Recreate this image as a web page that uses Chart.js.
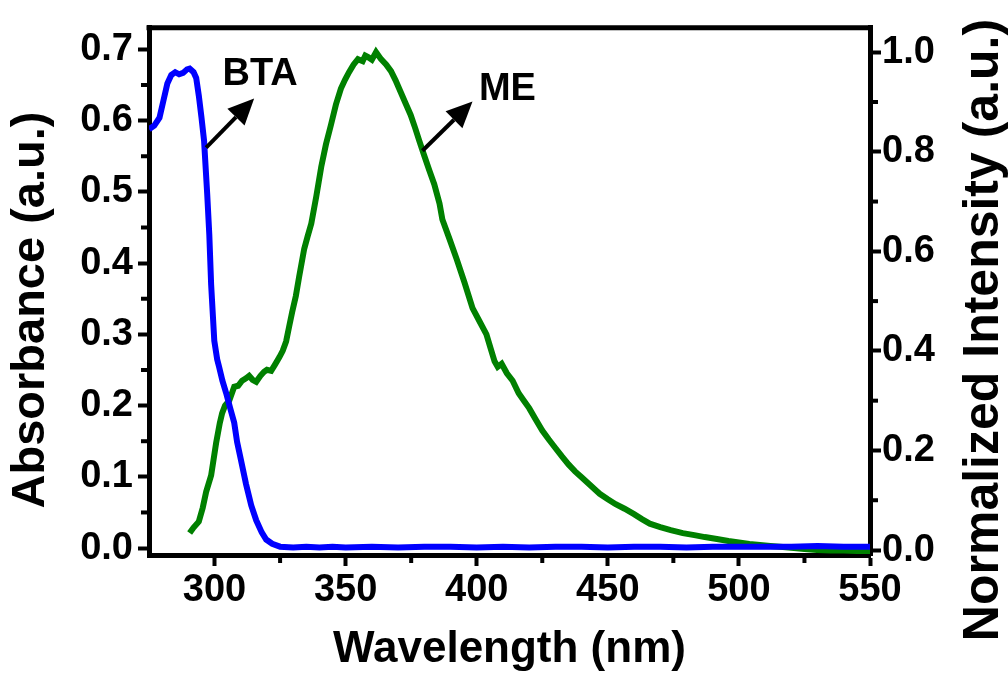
<!DOCTYPE html>
<html>
<head>
<meta charset="utf-8">
<script src="https://cdn.jsdelivr.net/npm/chart.js@4.4.1/dist/chart.umd.min.js"></script>
<style>
  body { margin: 0; background: #fff; }
  #wrap { width: 1008px; height: 680px; }
</style>
</head>
<body>
<div id="wrap"><canvas id="spectra" width="1008" height="680"></canvas></div>
<script>
// BTA absorbance (left axis)
var btaWavelength = [275, 277, 279, 280.5, 282, 283.5, 285, 286.5, 288, 289.5, 290.5, 292, 293, 294, 295, 296, 297.2, 298, 298.7, 299.9,
    301, 301.7, 303, 304.4, 306, 307.5, 308.6, 310, 312, 314, 315.9, 318, 319.7, 322, 325, 330, 335, 340, 345, 350,
    360, 370, 380, 390, 400, 410, 420, 430, 440, 450, 460, 470, 480, 490, 500, 510, 520, 530, 540, 550];
var btaAbsorbance = [0.588, 0.593, 0.604, 0.628, 0.652, 0.664, 0.668, 0.665, 0.667, 0.672, 0.673, 0.668, 0.660, 0.635, 0.605, 0.572, 0.497, 0.440, 0.370, 0.291,
    0.265, 0.255, 0.235, 0.218, 0.196, 0.176, 0.149, 0.125, 0.090, 0.060, 0.039, 0.022, 0.012, 0.006, 0.002, 0.001, 0.002, 0.001, 0.002, 0.001,
    0.002, 0.001, 0.002, 0.002, 0.001, 0.002, 0.001, 0.002, 0.002, 0.001, 0.002, 0.002, 0.001, 0.002, 0.002, 0.002, 0.002, 0.003, 0.002, 0.002];

// ME normalized emission (right axis)
var meWavelength = [290.5, 292, 294, 295.5, 296.8, 298.7, 300.6, 302, 302.9, 304, 305.6, 307.5, 309, 310.5, 312, 313.2, 314.5, 315.9, 317.5, 318.9,
    320, 321.6, 323, 324.7, 326, 327.3, 328.5, 329.6, 331, 332.3, 334.2, 335.5, 336.9, 338.8, 340.7, 342.5, 344.4, 346.3, 348.2, 349.8,
    351.3, 353, 354.7, 356.5, 357.5, 358.6, 360, 361.6, 363.5, 365.5, 367.3, 369, 370.9, 372.8, 374.8, 376.5, 378.1, 380, 381.9, 383.8,
    385.8, 386.9, 389.6, 392.3, 395.3, 398.4, 401, 403.7, 405.3, 406.8, 408, 409.5, 411.5, 413.7, 416, 418, 420, 422.5, 425, 427.5,
    430, 432.5, 435, 437.5, 440, 442.5, 445, 446.9, 450, 453, 456.4, 460, 463, 466, 470, 474, 478.6, 483,
    487, 491.6, 496, 500, 504, 508, 512, 516.8, 521, 525, 529.8, 535, 540, 545, 550];
var meIntensity = [0.034, 0.045, 0.057, 0.085, 0.117, 0.150, 0.215, 0.255, 0.275, 0.290, 0.300, 0.328, 0.330, 0.340, 0.345, 0.350, 0.342, 0.338, 0.350, 0.358,
    0.362, 0.360, 0.372, 0.387, 0.400, 0.419, 0.450, 0.478, 0.510, 0.550, 0.605, 0.630, 0.656, 0.710, 0.770, 0.815, 0.854, 0.895, 0.927, 0.945,
    0.960, 0.975, 0.986, 0.982, 0.993, 0.990, 0.985, 1.000, 0.986, 0.975, 0.962, 0.944, 0.921, 0.898, 0.874, 0.848, 0.822, 0.792, 0.763, 0.735,
    0.696, 0.664, 0.625, 0.585, 0.538, 0.486, 0.460, 0.433, 0.405, 0.379, 0.368, 0.374, 0.355, 0.340, 0.315, 0.300, 0.285, 0.262, 0.240, 0.222,
    0.205, 0.188, 0.172, 0.158, 0.146, 0.134, 0.122, 0.113, 0.102, 0.092, 0.083, 0.072, 0.062, 0.053, 0.046, 0.040, 0.034, 0.030,
    0.026, 0.022, 0.018, 0.015, 0.012, 0.010, 0.008, 0.006, 0.004, 0.002, 0.000, -0.001, -0.001, -0.002, -0.002];

var xTitle = 'Wavelength (nm)';
var leftTitle = 'Absorbance (a.u.)';
var rightTitle = 'Normalized Intensity (a.u.)';

// arrow labels, in data units (x nm, y on the named axis)
var arrowNotes = [
    { text: 'BTA', axis: 'yAbs', from: [296.8, 0.562], to: [315.1, 0.631], at: [317.4, 0.665] },
    { text: 'ME', axis: 'yInt', from: [379.3, 0.802], to: [398.4, 0.901], at: [411.7, 0.925] }
];

var family = "'Liberation Sans', Arial, sans-serif";

function pairs(xs, ys) {
    return xs.map(function(x, i) { return { x: x, y: ys[i] }; });
}

function hiddenMinor(major) {
    return function(c) {
        if (!c.tick) return '#000';
        return major(c.tick.value) ? '#000' : 'rgba(0,0,0,0)';
    };
}

var isMajorX = function(v) { return Math.round(v) % 50 === 0; };
var isMajorAbs = function(v) { return Math.round(v * 100) % 10 === 0; };
var isMajorInt = function(v) { return Math.round(v * 10) % 2 === 0; };

var extras = {
    id: 'extras',
    afterDraw: function(chart) {
        var ctx = chart.ctx;
        var a = chart.chartArea;
        ctx.save();
        ctx.strokeStyle = '#000';
        ctx.fillStyle = '#000';

        // top edge of the frame
        ctx.lineWidth = 5;
        ctx.beginPath();
        ctx.moveTo(a.left - 2.5, a.top);
        ctx.lineTo(a.right + 2.5, a.top);
        ctx.stroke();

        // minor ticks
        ctx.lineWidth = 4;
        var specs = [['x', isMajorX], ['yAbs', isMajorAbs], ['yInt', isMajorInt]];
        specs.forEach(function(sp) {
            var s = chart.scales[sp[0]];
            s.ticks.forEach(function(t) {
                if (sp[1](t.value)) return;
                var p = s.getPixelForValue(t.value);
                ctx.beginPath();
                if (sp[0] === 'x') {
                    if (p <= a.left + 3 || p >= a.right - 3) return;
                    ctx.moveTo(p, a.bottom); ctx.lineTo(p, a.bottom + 8);
                } else if (sp[0] === 'yAbs') {
                    ctx.moveTo(a.left, p); ctx.lineTo(a.left - 8, p);
                } else {
                    ctx.moveTo(a.right, p); ctx.lineTo(a.right + 8, p);
                }
                ctx.stroke();
            });
        });

        // axis titles
        ctx.textAlign = 'center';
        ctx.textBaseline = 'middle';
        ctx.font = 'bold 44px ' + family;
        ctx.fillText(xTitle, (a.left + a.right) / 2, 650);

        ctx.save();
        ctx.font = 'bold 47px ' + family;
        ctx.translate(31, 310);
        ctx.rotate(-Math.PI / 2);
        ctx.fillText(leftTitle, 0, 0);
        ctx.restore();

        ctx.save();
        ctx.font = 'bold 50px ' + family;
        ctx.translate(984, 330);
        ctx.rotate(-Math.PI / 2);
        ctx.fillText(rightTitle, 0, 0);
        ctx.restore();

        // arrows and labels
        var xs = chart.scales.x;
        arrowNotes.forEach(function(n) {
            var ys = chart.scales[n.axis];
            var x1 = xs.getPixelForValue(n.from[0]), y1 = ys.getPixelForValue(n.from[1]);
            var x2 = xs.getPixelForValue(n.to[0]), y2 = ys.getPixelForValue(n.to[1]);
            var ang = Math.atan2(y2 - y1, x2 - x1);
            var head = 26, half = 12;
            var bx = x2 - head * Math.cos(ang), by = y2 - head * Math.sin(ang);
            ctx.lineWidth = 4;
            ctx.beginPath();
            ctx.moveTo(x1, y1);
            ctx.lineTo(bx, by);
            ctx.stroke();
            ctx.beginPath();
            ctx.moveTo(x2, y2);
            ctx.lineTo(bx + half * Math.sin(ang), by - half * Math.cos(ang));
            ctx.lineTo(bx - half * Math.sin(ang), by + half * Math.cos(ang));
            ctx.closePath();
            ctx.fill();

            ctx.font = 'bold 38px ' + family;
            ctx.textAlign = 'center';
            ctx.textBaseline = 'middle';
            ctx.fillText(n.text, xs.getPixelForValue(n.at[0]), ys.getPixelForValue(n.at[1]));
        });
        ctx.restore();
    }
};

var tickFont = { family: family, size: 38, weight: 'bold' };

new Chart(document.getElementById('spectra'), {
    type: 'line',
    data: {
        datasets: [{
            label: 'BTA',
            data: pairs(btaWavelength, btaAbsorbance),
            yAxisID: 'yAbs',
            borderColor: '#0000ff',
            borderWidth: 6,
            pointRadius: 0,
            tension: 0
        }, {
            label: 'ME',
            data: pairs(meWavelength, meIntensity),
            yAxisID: 'yInt',
            borderColor: '#008000',
            borderWidth: 6,
            pointRadius: 0,
            tension: 0
        }]
    },
    options: {
        responsive: false,
        animation: false,
        layout: { padding: { top: 18, left: 0, right: 0, bottom: 0 } },
        plugins: { legend: { display: false }, tooltip: { enabled: false } },
        scales: {
            x: {
                type: 'linear',
                position: 'bottom',
                min: 275,
                max: 550,
                afterFit: function(s) { s.height = 125; },
                border: { color: '#000', width: 5 },
                grid: { drawOnChartArea: false, tickLength: 11, tickWidth: 4, tickColor: hiddenMinor(isMajorX) },
                ticks: {
                    stepSize: 25, autoSkip: false, maxRotation: 0, padding: 2, color: '#000', font: tickFont,
                    includeBounds: false,
                    callback: function(v) { return isMajorX(v) ? String(Math.round(v)) : ''; }
                }
            },
            yAbs: {
                type: 'linear',
                position: 'left',
                min: -0.0097,
                max: 0.7303,
                afterFit: function(s) { s.width = 149; },
                border: { color: '#000', width: 5 },
                grid: { drawOnChartArea: false, tickLength: 11, tickWidth: 4, tickColor: hiddenMinor(isMajorAbs) },
                ticks: {
                    stepSize: 0.05, autoSkip: false, padding: 5, color: '#000', font: tickFont,
                    includeBounds: false,
                    callback: function(v) { return isMajorAbs(v) ? v.toFixed(1) : ''; }
                }
            },
            yInt: {
                type: 'linear',
                position: 'right',
                min: -0.01,
                max: 1.049,
                afterFit: function(s) { s.width = 138; },
                border: { color: '#000', width: 5 },
                grid: { drawOnChartArea: false, tickLength: 11, tickWidth: 4, tickColor: hiddenMinor(isMajorInt) },
                ticks: {
                    stepSize: 0.1, autoSkip: false, padding: 1, color: '#000', font: tickFont,
                    includeBounds: false,
                    callback: function(v) { return isMajorInt(v) ? v.toFixed(1) : ''; }
                }
            }
        }
    },
    plugins: [extras]
});
</script>
</body>
</html>
